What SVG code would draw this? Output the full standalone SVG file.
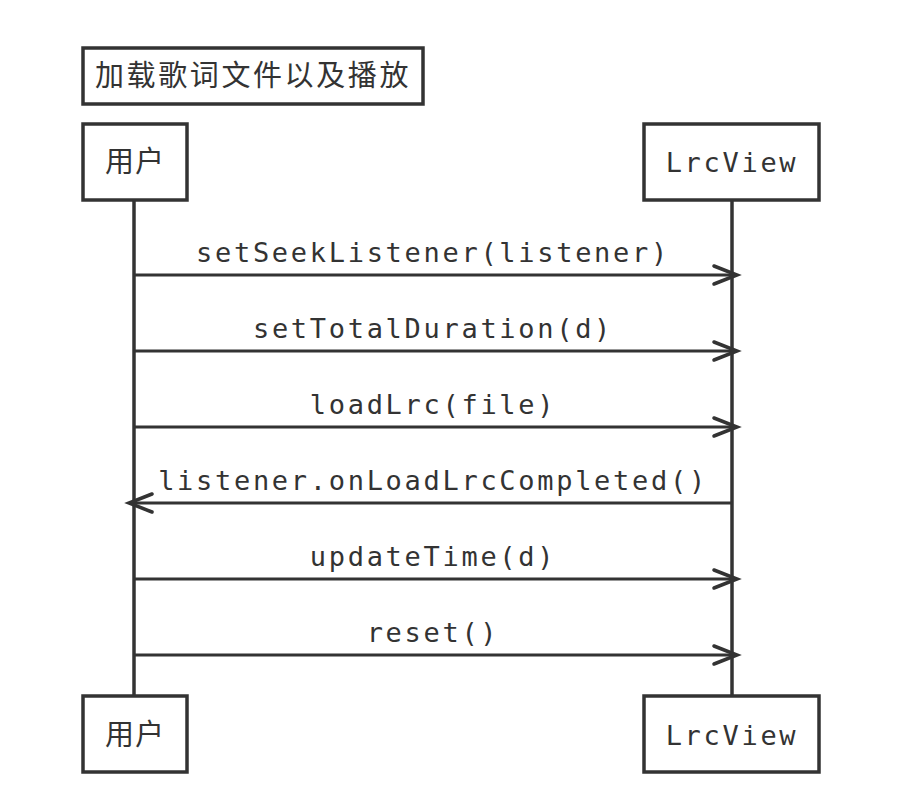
<svg xmlns="http://www.w3.org/2000/svg" width="914" height="810" viewBox="0 0 914 810">
<defs>
<style>
.box{fill:#fff;stroke:#333;stroke-width:3.5}
.life{stroke:#333;stroke-width:3.5;fill:none}
.msg{stroke:#333;stroke-width:3;fill:none}
.head{stroke:#333;stroke-width:3.5;fill:none;stroke-linecap:round;stroke-linejoin:miter}
.mono{font-family:"DejaVu Sans Mono","Liberation Mono",monospace;font-size:27px;letter-spacing:2.7px;fill:#333}
.cjk{font-family:"Noto Sans CJK SC","Noto Sans",sans-serif;font-size:29px;fill:#333}
</style>
</defs>
<rect width="914" height="810" fill="#fff"/>
<g id="title">
<rect class="box" x="83" y="48" width="340" height="56"/>
<text class="cjk" x="253" y="86" text-anchor="middle" letter-spacing="2.6">加载歌词文件以及播放</text>
</g>
<g id="lifelines">
<line class="life" x1="134" y1="200" x2="134" y2="696"/>
<line class="life" x1="732" y1="200" x2="732" y2="696"/>
</g>
<g id="user-top">
<rect class="box" x="83" y="124" width="104" height="76"/>
<text class="cjk" x="135" y="172" text-anchor="middle" letter-spacing="1">用户</text>
</g>
<g id="lrcview-top">
<rect class="box" x="644" y="124" width="175" height="76"/>
<text class="mono" x="732" y="172" text-anchor="middle">LrcView</text>
</g>
<g id="user-bottom">
<rect class="box" x="83" y="696" width="104" height="76"/>
<text class="cjk" x="135" y="745" text-anchor="middle" letter-spacing="1">用户</text>
</g>
<g id="lrcview-bottom">
<rect class="box" x="644" y="696" width="175" height="76"/>
<text class="mono" x="732" y="745" text-anchor="middle">LrcView</text>
</g>
<g id="connectors">
<line class="msg" x1="134" y1="275" x2="737" y2="275"/>
<polyline class="head" points="714,266 737,275 714,284"/>
<text class="mono" x="433" y="262" text-anchor="middle">setSeekListener(listener)</text>
<line class="msg" x1="134" y1="351" x2="737" y2="351"/>
<polyline class="head" points="714,342 737,351 714,360"/>
<text class="mono" x="433" y="338" text-anchor="middle">setTotalDuration(d)</text>
<line class="msg" x1="134" y1="427" x2="737" y2="427"/>
<polyline class="head" points="714,418 737,427 714,436"/>
<text class="mono" x="433" y="414" text-anchor="middle">loadLrc(file)</text>
<line class="msg" x1="732" y1="503" x2="129" y2="503"/>
<polyline class="head" points="152,494 129,503 152,512"/>
<text class="mono" x="433" y="490" text-anchor="middle">listener.onLoadLrcCompleted()</text>
<line class="msg" x1="134" y1="579" x2="737" y2="579"/>
<polyline class="head" points="714,570 737,579 714,588"/>
<text class="mono" x="433" y="566" text-anchor="middle">updateTime(d)</text>
<line class="msg" x1="134" y1="655" x2="737" y2="655"/>
<polyline class="head" points="714,646 737,655 714,664"/>
<text class="mono" x="433" y="642" text-anchor="middle">reset()</text>
</g>
</svg>
